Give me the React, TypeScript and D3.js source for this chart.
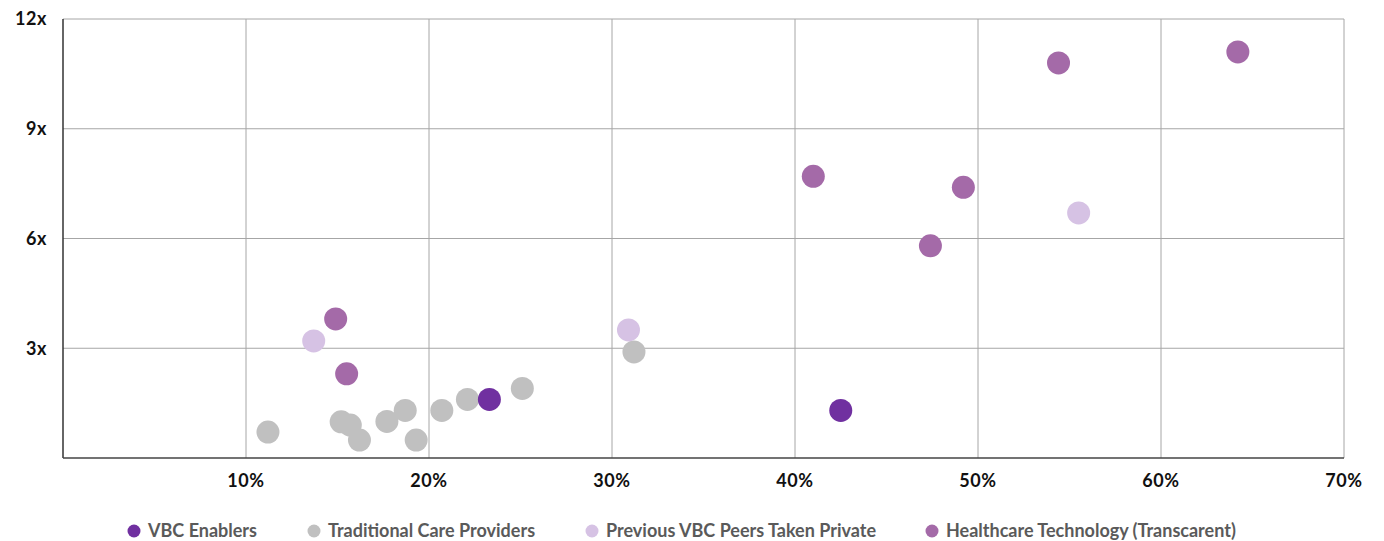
import React from "react";
import * as d3 from "d3";

const xTicks = [10, 20, 30, 40, 50, 60, 70];
const yTicks = [3, 6, 9, 12];
const seriesNames = ["VBC Enablers", "Traditional Care Providers", "Previous VBC Peers Taken Private", "Healthcare Technology (Transcarent)"];
const seriesColors = ["#7030a0", "#c0c0c0", "#d6c2e4", "#a46aa8"];

const vbcEnablers: [number, number][] = [[23.3, 1.6], [42.5, 1.3]];
const traditional: [number, number][] = [
  [11.2, 0.71], [15.2, 0.99], [15.7, 0.9], [16.2, 0.49], [17.7, 1.0], [18.7, 1.3],
  [19.3, 0.49], [20.7, 1.3], [22.1, 1.6], [25.1, 1.9], [31.2, 2.9],
];
const previousPeers: [number, number][] = [[13.7, 3.2], [30.9, 3.5], [55.5, 6.7]];
const healthTech: [number, number][] = [
  [14.9, 3.8], [15.5, 2.3], [41.0, 7.7], [47.4, 5.8], [49.2, 7.4], [54.4, 10.8], [64.2, 11.1],
];
const seriesData = [vbcEnablers, traditional, previousPeers, healthTech];
const drawOrder = [1, 2, 3, 0];
const legendX = [134, 314, 592, 932];

export default function App() {
  const W = 1384, H = 541;
  const left = 63, right = 1344, top = 19, bottom = 458;
  const x = d3.scaleLinear().domain([0, 70]).range([left, right]);
  const y = d3.scaleLinear().domain([0, 12]).range([bottom, top]);
  const font = "Lato, 'Noto Sans', sans-serif";
  return (
    <div style={{ position: "fixed", left: 0, top: 0 }}>
      <svg width={W} height={H} style={{ display: "block" }}>
        <rect x={0} y={0} width={W} height={H} fill="#fff" />
        {xTicks.map((t) => (
          <line key={"gx" + t} x1={x(t)} x2={x(t)} y1={top} y2={bottom} stroke="#a6a6a6" strokeWidth={1} />
        ))}
        {yTicks.map((t) => (
          <line key={"gy" + t} x1={left} x2={right} y1={y(t)} y2={y(t)} stroke="#a6a6a6" strokeWidth={1} />
        ))}
        <line x1={left} x2={left} y1={top} y2={bottom} stroke="#333" strokeWidth={1.5} />
        <line x1={left} x2={right} y1={bottom} y2={bottom} stroke="#444" strokeWidth={1.5} />
        {yTicks.map((t) => (
          <text key={"ty" + t} x={47} y={y(t)} dy="0.35em" textAnchor="end" fontFamily={font} fontWeight={700} fontSize={18} letterSpacing={0.6} fill="#111">
            {t + "x"}
          </text>
        ))}
        {xTicks.map((t) => (
          <text key={"tx" + t} x={x(t)} y={487} textAnchor="middle" fontFamily={font} fontWeight={700} fontSize={18} letterSpacing={0.6} fill="#111">
            {t + "%"}
          </text>
        ))}
        {drawOrder.map((si) =>
          seriesData[si].map((d, i) => (
            <circle key={si + "-" + i} cx={x(d[0])} cy={y(d[1])} r={11.5} fill={seriesColors[si]} />
          ))
        )}
        {seriesNames.map((n, i) => (
          <g key={"lg" + i}>
            <circle cx={legendX[i]} cy={531} r={6.5} fill={seriesColors[i]} />
            <text x={legendX[i] + 14} y={531} dy="0.35em" fontFamily={font} fontWeight={700} fontSize={18} fill="#5a5a5a">
              {n}
            </text>
          </g>
        ))}
      </svg>
    </div>
  );
}
